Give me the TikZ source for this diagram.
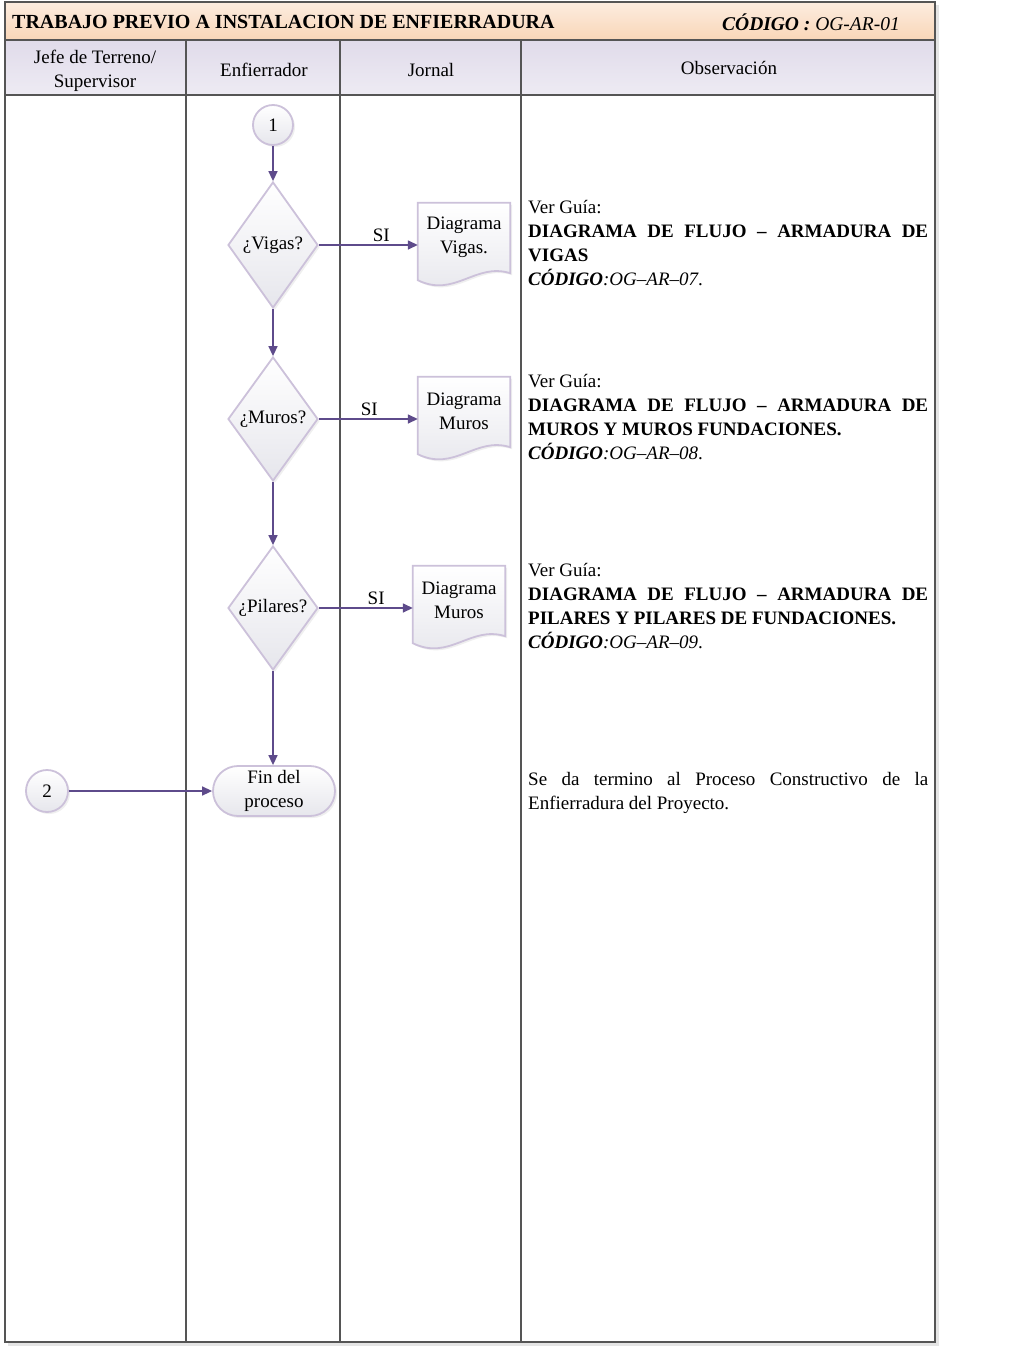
\documentclass[tikz,border=0pt]{standalone}
\usepackage{fontspec}
\setmainfont{Liberation Serif}
\usetikzlibrary{shapes.geometric,arrows.meta,shadows}

\definecolor{flowline}{RGB}{94,75,139}
\definecolor{shapeline}{RGB}{204,193,218}
\definecolor{shapefill}{RGB}{230,230,236}
\definecolor{framegray}{RGB}{85,85,85}
\definecolor{titlepeach}{RGB}{249,214,184}
\definecolor{headlav}{RGB}{224,219,234}

\newcommand{\bodyfont}{\fontsize{19}{24}\selectfont}

\tikzset{
  lane/.style={draw=framegray, line width=1.7pt},
  flowshape/.style={draw=shapeline, line width=1.8pt, top color=white, bottom color=shapefill,
    drop shadow={shadow xshift=2pt, shadow yshift=-2pt, fill=black!12}},
  decision/.style={flowshape, diamond, minimum width=90pt, minimum height=126pt,
    inner sep=0pt, font=\bodyfont},
  connector/.style={flowshape, circle, minimum size=40pt, inner sep=0pt, font=\bodyfont},
  terminal/.style={flowshape, rectangle, rounded corners=25pt, minimum width=122pt,
    minimum height=50pt, align=center, font=\bodyfont},
  docbox/.style={minimum width=92pt, minimum height=68pt, inner sep=0pt},
  doctext/.style={align=center, font=\bodyfont},
  flow/.style={draw=flowline, line width=1.5pt, -{Triangle[length=10pt,width=9pt]}},
  yes/.style={above, inner sep=3pt, font=\bodyfont},
  obs/.style={anchor=north west, text width=400pt, align=justify, inner sep=0pt, font=\bodyfont},
  headtext/.style={align=center, font=\bodyfont}
}

\begin{document}
\begin{tikzpicture}[x=1pt,y=-1pt]
  \useasboundingbox (0,0) rectangle (1032,1347);

  % frame and lanes
  \fill[black!10] (8,5) rectangle (939,1346);
  \fill[white] (5,40) rectangle (935,1342);
  \draw[lane, top color=titlepeach!45, bottom color=titlepeach] (5,2) rectangle (935,40);
  \draw[lane, top color=headlav, bottom color=headlav!55] (5,40) rectangle (935,95);
  \draw[lane] (5,40) rectangle (935,1342);
  \foreach \x in {186,340,521}
    \draw[lane] (\x,40) -- (\x,1342);

  \node[anchor=west, inner sep=0pt, font=\fontsize{20}{24}\selectfont\bfseries] (title) at (12,22)
    {TRABAJO PREVIO A INSTALACION DE ENFIERRADURA};
  \node[anchor=east, inner sep=0pt, font=\fontsize{19.5}{24}\selectfont\itshape] (code) at (900,22)
    {\textbf{CÓDIGO :} OG-AR-01};

  \node[headtext] (hjefe) at (95,71) {Jefe de Terreno/\\Supervisor};
  \node[headtext] (henf) at (264,70) {Enfierrador};
  \node[headtext] (hjor) at (431,70) {Jornal};
  \node[headtext] (hobs) at (729,68) {Observación};

  % flow
  \node[connector] (c1) at (273,125) {1};
  \node[decision] (vig) at (273,245) {¿Vigas?};
  \node[decision, minimum height=124pt] (mur) at (273,419) {¿Muros?};
  \node[decision, minimum height=124pt] (pil) at (273,608) {¿Pilares?};
  \node[terminal] (fin) at (274,791) {Fin del\\proceso};
  \node[connector, minimum size=42pt] (c2) at (47,791) {2};

  \path node[docbox] (dv) at (464,237) {};
  \draw[flowshape] (dv.north west) -- (dv.north east) -- ([yshift=-2pt]dv.south east)
    .. controls +(-35,-11) and +(37,18) .. ([yshift=-9pt]dv.south west) -- cycle;
  \node[doctext] (dvt) at (dv) {Diagrama\\Vigas.};

  \path node[docbox] (dm) at (464,411) {};
  \draw[flowshape] (dm.north west) -- (dm.north east) -- ([yshift=-2pt]dm.south east)
    .. controls +(-35,-11) and +(37,18) .. ([yshift=-9pt]dm.south west) -- cycle;
  \node[doctext] (dmt) at (dm) {Diagrama\\Muros};

  \path node[docbox] (dp) at (459,600) {};
  \draw[flowshape] (dp.north west) -- (dp.north east) -- ([yshift=-2pt]dp.south east)
    .. controls +(-35,-11) and +(37,18) .. ([yshift=-9pt]dp.south west) -- cycle;
  \node[doctext] (dpt) at (dp) {Diagrama\\Muros};

  \draw[flow] (c1) -- (vig);
  \draw[flow] (vig) -- (mur);
  \draw[flow] (mur) -- (pil);
  \draw[flow] (pil) -- (pil |- fin.north);
  \draw[flow] (c2) -- (fin);
  \draw[flow] (vig.east) -- node[yes, pos=0.63] {SI} (vig.east -| dv.west);
  \draw[flow] (mur.east) -- node[yes, pos=0.51] {SI} (mur.east -| dm.west);
  \draw[flow] (pil.east) -- node[yes, pos=0.61] {SI} (pil.east -| dp.west);

  % observations
  \node[obs] (ovig) at (528,200) {Ver Guía:\newline
    \textbf{DIAGRAMA DE FLUJO – ARMADURA DE\linebreak VIGAS}\newline
    \textbf{\textit{CÓDIGO}}\textit{:OG–AR–07}.};
  \node[obs] (omur) at (528,374) {Ver Guía:\newline
    \textbf{DIAGRAMA DE FLUJO – ARMADURA DE\linebreak MUROS Y MUROS FUNDACIONES.}\newline
    \textbf{\textit{CÓDIGO}}\textit{:OG–AR–08}.};
  \node[obs] (opil) at (528,563) {Ver Guía:\newline
    \textbf{DIAGRAMA DE FLUJO – ARMADURA DE\linebreak PILARES Y PILARES DE FUNDACIONES.}\newline
    \textbf{\textit{CÓDIGO}}\textit{:OG–AR–09}.};
  \node[obs] (ofin) at (528,772) {Se da termino al Proceso Constructivo de la\linebreak
    Enfierradura del Proyecto.};
\end{tikzpicture}
\end{document}
